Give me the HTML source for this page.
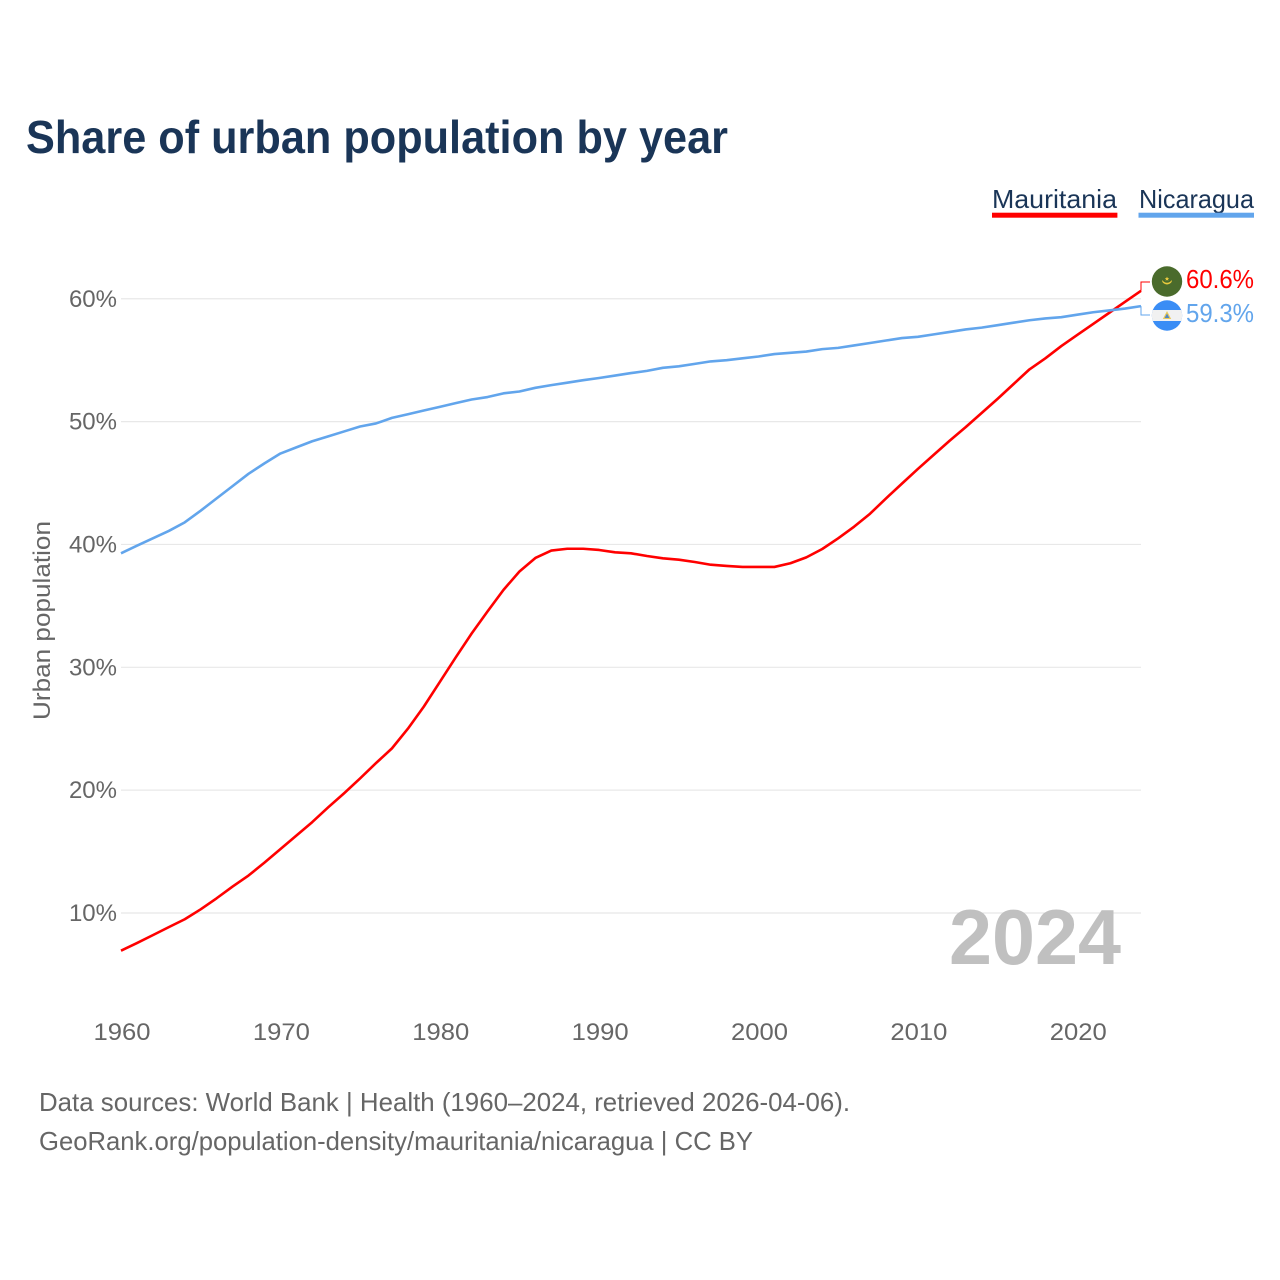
<!DOCTYPE html>
<html lang="en">
<head>
<meta charset="utf-8">
<title>Share of urban population by year</title>
<style>
html,body{margin:0;padding:0;background:#fff;}
svg{display:block;font-family:"Liberation Sans",sans-serif;}
</style>
</head>
<body>
<svg id="chart" width="1280" height="1280" viewBox="0 0 1280 1280" xmlns="http://www.w3.org/2000/svg">
  <rect width="1280" height="1280" fill="#ffffff"/>
  <g id="grid"></g>
  <g id="yticks"></g>
  <g id="xticks"></g>
  <text x="949" y="964" font-size="78" font-weight="700" fill="#bdbdbd" fill-opacity="0.95" textLength="172" lengthAdjust="spacingAndGlyphs">2024</text>
  <text x="26" y="153" font-size="46" font-weight="700" fill="#1a3557" textLength="702" lengthAdjust="spacingAndGlyphs">Share of urban population by year</text>
  <text x="992" y="208" font-size="26" fill="#1a3557" textLength="125" lengthAdjust="spacingAndGlyphs">Mauritania</text>
  <rect x="992" y="212.7" width="125.4" height="5" fill="#ff0000"/>
  <text x="1139" y="208" font-size="26" fill="#1a3557" textLength="115" lengthAdjust="spacingAndGlyphs">Nicaragua</text>
  <rect x="1138.5" y="212.7" width="115.5" height="5" fill="#62a5ec"/>
  <text transform="translate(50,720) rotate(-90)" font-size="24" fill="#666666" textLength="199" lengthAdjust="spacingAndGlyphs">Urban population</text>
  <path id="line-mauritania" fill="none" stroke="#ff0000" stroke-width="2.6" stroke-linejoin="round"/>
  <path id="line-nicaragua" fill="none" stroke="#62a5ec" stroke-width="2.6" stroke-linejoin="round"/>
  <path id="connector-mauritania" fill="none" stroke="#ff0000" stroke-width="1"/>
  <path id="connector-nicaragua" fill="none" stroke="#62a5ec" stroke-width="1"/>
  <g>
    <circle cx="1167" cy="281.5" r="15.2" fill="#4a6b2c"/>
    <path d="M1162.3 280.6 A4.9 4.9 0 0 0 1171.7 280.6 A5.6 5.6 0 0 1 1162.3 280.6Z" fill="#eccb3f" stroke="#eccb3f" stroke-width="0.7"/>
    <path d="M1167 276.6 l0.7 1.5 1.5 0.1 -1.2 1 0.4 1.5 -1.4 -0.8 -1.4 0.8 0.4 -1.5 -1.2 -1 1.5 -0.1z" fill="#eccb3f"/>
  </g>
  <g>
    <clipPath id="nic-clip"><circle cx="1167" cy="315.5" r="15.2"/></clipPath>
    <g clip-path="url(#nic-clip)">
      <rect x="1151" y="300" width="32" height="32" fill="#3a8df5"/>
      <rect x="1151" y="310" width="32" height="11" fill="#f1f1f1"/>
      <path d="M1167 311 L1171.2 319 H1162.8Z" fill="#e9c95c"/>
      <path d="M1167 313.6 L1169.4 318 H1164.6Z" fill="#4f86c6"/>
    </g>
  </g>
  <text x="1186" y="288" font-size="26" fill="#ff0000" textLength="68" lengthAdjust="spacingAndGlyphs">60.6%</text>
  <text x="1186" y="322" font-size="26" fill="#62a5ec" textLength="68" lengthAdjust="spacingAndGlyphs">59.3%</text>
  <text x="39" y="1111" font-size="26" fill="#666666" textLength="811" lengthAdjust="spacingAndGlyphs">Data sources: World Bank | Health (1960–2024, retrieved 2026-04-06).</text>
  <text x="39" y="1150" font-size="26" fill="#666666" textLength="714" lengthAdjust="spacingAndGlyphs">GeoRank.org/population-density/mauritania/nicaragua | CC BY</text>
</svg>
<script>
var startYear = 1960;
var endYear = 2024;
var mauritaniaValues = [6.93,7.55,8.2,8.85,9.49,10.3,11.2,12.15,13.05,14.1,15.2,16.3,17.4,18.6,19.75,20.95,22.2,23.4,25.0,26.8,28.8,30.8,32.75,34.55,36.3,37.8,38.9,39.5,39.65,39.65,39.55,39.36,39.28,39.06,38.87,38.76,38.57,38.35,38.25,38.17,38.17,38.17,38.47,38.95,39.63,40.5,41.45,42.5,43.75,44.95,46.15,47.3,48.45,49.55,50.7,51.85,53.05,54.25,55.15,56.15,57.05,57.95,58.85,59.75,60.65];
var nicaraguaValues = [39.28,39.9,40.5,41.1,41.8,42.75,43.75,44.75,45.75,46.6,47.4,47.9,48.4,48.8,49.2,49.6,49.85,50.3,50.6,50.9,51.2,51.5,51.8,52.0,52.3,52.45,52.75,52.97,53.17,53.37,53.55,53.75,53.95,54.13,54.38,54.5,54.7,54.9,55.0,55.15,55.3,55.5,55.6,55.7,55.9,56.0,56.2,56.4,56.6,56.8,56.9,57.1,57.3,57.5,57.65,57.85,58.05,58.25,58.4,58.5,58.7,58.9,59.05,59.2,59.4];
var yTickValues = [10,20,30,40,50,60];
var xTickValues = [1960,1970,1980,1990,2000,2010,2020];

var NS = 'http://www.w3.org/2000/svg';
function xScale(year){ return 121 + (year - startYear) * (1141 - 121) / (endYear - startYear); }
function yScale(v){ return 913 - (v - 10) * 12.285; }
function linePath(values){
  var d = '';
  for (var i = 0; i < values.length; i++) {
    d += (i ? 'L' : 'M') + xScale(startYear + i).toFixed(2) + ' ' + yScale(values[i]).toFixed(2);
  }
  return d;
}
var gridG = document.getElementById('grid');
var yG = document.getElementById('yticks');
var xG = document.getElementById('xticks');
yTickValues.forEach(function(v){
  var l = document.createElementNS(NS, 'line');
  
  
  l.setAttribute('x1', xScale(startYear));
  l.setAttribute('x2', xScale(endYear));
  l.setAttribute('y1', yScale(v));
  l.setAttribute('y2', yScale(v));
  l.setAttribute('stroke', '#e8e8e8');
  l.setAttribute('stroke-width', '1.2');
  gridG.appendChild(l);
  var t = document.createElementNS(NS, 'text');
  
  
  t.setAttribute('x', 117);
  t.setAttribute('y', yScale(v) + 8);
  t.setAttribute('text-anchor', 'end');
  t.setAttribute('font-size', '24');
  t.setAttribute('fill', '#666666');
  t.textContent = v + '%';
  yG.appendChild(t);
});
xTickValues.forEach(function(y){
  var t = document.createElementNS(NS, 'text');
  
  
  t.setAttribute('x', xScale(y) + 1);
  t.setAttribute('y', 1040);
  t.setAttribute('text-anchor', 'middle');
  t.setAttribute('font-size', '24');
  t.setAttribute('textLength', '57');
  t.setAttribute('lengthAdjust', 'spacingAndGlyphs');
  t.setAttribute('fill', '#666666');
  t.textContent = y;
  xG.appendChild(t);
});
document.getElementById('line-mauritania').setAttribute('d', linePath(mauritaniaValues));
document.getElementById('line-nicaragua').setAttribute('d', linePath(nicaraguaValues));
var lastM = mauritaniaValues[mauritaniaValues.length - 1];
var lastN = nicaraguaValues[nicaraguaValues.length - 1];
document.getElementById('connector-mauritania').setAttribute('d', 'M' + xScale(endYear) + ' ' + yScale(lastM) + 'V282H1150');
document.getElementById('connector-nicaragua').setAttribute('d', 'M' + xScale(endYear) + ' ' + yScale(lastN) + 'V315H1150');
</script>
</body>
</html>
